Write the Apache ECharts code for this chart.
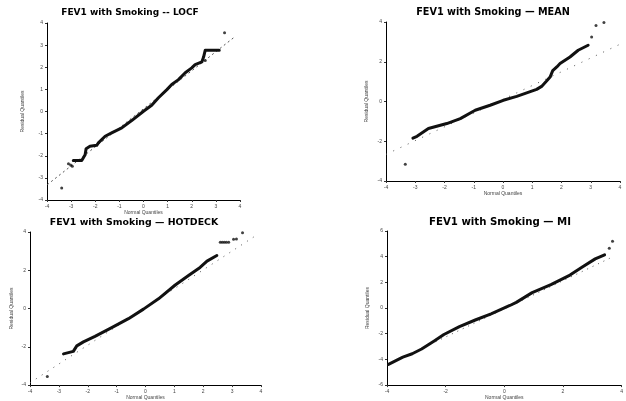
<!DOCTYPE html>
<html>
<head>
<meta charset="utf-8">
<script src="https://cdn.jsdelivr.net/npm/echarts@6/dist/echarts.min.js"></script>
<style>
  html, body { margin: 0; padding: 0; background: #fff; }
  #chart { width: 626px; height: 401px; }
</style>
</head>
<body>
<div id="chart"></div>
<script>
// Normal Q-Q plots of FEV1 model residuals under four imputation methods.

const panelTitles = [
  'FEV1 with Smoking -- LOCF',
  'FEV1 with Smoking \u2014 MEAN',
  'FEV1 with Smoking \u2014 HOTDECK',
  'FEV1 with Smoking \u2014 MI'
];
const xAxisTitle = 'Normal Quantiles';
const yAxisTitle = 'Residual Quantiles';

// Tick labels for each panel
const locfTicksX = [-4, -3, -2, -1, 0, 1, 2, 3, 4];
const locfTicksY = [-4, -3, -2, -1, 0, 1, 2, 3, 4];
const meanTicksX = [-4, -3, -2, -1, 0, 1, 2, 3, 4];
const meanTicksY = [-4, -2, 0, 2, 4];
const hotdeckTicksX = [-4, -3, -2, -1, 0, 1, 2, 3, 4];
const hotdeckTicksY = [-4, -2, 0, 2, 4];
const miTicksX = [-4, -2, 0, 2, 4];
const miTicksY = [-6, -4, -2, 0, 2, 4, 6];

// LOCF: dense run of ordered residuals, isolated points, reference line ends
const locfCurveX = [-2.91, -2.56, -2.42, -2.38, -2.22, -1.94, -1.87, -1.59, -1.32, -0.90, -0.49, 0.00, 0.34, 0.62, 0.97, 1.17, 1.45, 1.73, 2.00, 2.14, 2.42, 2.49, 2.56, 3.14];
const locfCurveY = [-2.21, -2.21, -1.95, -1.68, -1.57, -1.53, -1.42, -1.12, -0.97, -0.74, -0.41, 0.01, 0.28, 0.62, 0.99, 1.22, 1.44, 1.75, 1.97, 2.12, 2.24, 2.46, 2.77, 2.77];
const locfPointsX = [-3.39, -3.11, -3.02, -2.95, 2.56, 3.36];
const locfPointsY = [-3.46, -2.36, -2.42, -2.48, 2.30, 3.56];
const locfRefX = [-3.99, 3.73];
const locfRefY = [-3.31, 3.33];

// MEAN
const meanCurveX = [-3.08, -2.94, -2.55, -1.92, -1.46, -0.95, -0.44, 0.01, 0.47, 0.81, 1.15, 1.32, 1.49, 1.61, 1.70, 1.84, 1.95, 2.29, 2.57, 2.91];
const meanCurveY = [-1.84, -1.75, -1.36, -1.11, -0.86, -0.44, -0.19, 0.06, 0.26, 0.43, 0.61, 0.76, 1.03, 1.23, 1.55, 1.74, 1.91, 2.24, 2.58, 2.83];
const meanPointsX = [-3.34, 3.03, 3.18, 3.45];
const meanPointsY = [-3.16, 3.25, 3.83, 3.98];
const meanRefX = [-4.00, 3.97];
const meanRefY = [-2.66, 2.86];

// HOTDECK
const hotdeckCurveX = [-2.84, -2.50, -2.38, -2.15, -1.75, -1.17, -0.59, -0.07, 0.45, 1.03, 1.49, 1.89, 2.13, 2.47];
const hotdeckCurveY = [-2.37, -2.24, -1.95, -1.74, -1.45, -1.00, -0.53, -0.03, 0.51, 1.23, 1.73, 2.15, 2.48, 2.77];
const hotdeckPointsX = [-3.40, 2.59, 2.66, 2.73, 2.80, 2.88, 3.05, 3.15, 3.36];
const hotdeckPointsY = [-3.55, 3.46, 3.46, 3.46, 3.46, 3.46, 3.62, 3.64, 3.96];
const hotdeckRefX = [-4.00, 3.92];
const hotdeckRefY = [-3.88, 3.91];

// MI
const miCurveX = [-3.95, -3.46, -3.14, -2.82, -2.39, -2.06, -1.53, -0.99, -0.45, 0.19, 0.41, 0.95, 1.59, 2.24, 2.66, 3.10, 3.42];
const miCurveY = [-4.39, -3.82, -3.56, -3.19, -2.56, -2.06, -1.44, -0.93, -0.45, 0.20, 0.44, 1.20, 1.82, 2.57, 3.20, 3.83, 4.15];
const miPointsX = [3.58, 3.69];
const miPointsY = [4.65, 5.20];
const miRefX = [-4.00, 3.69];
const miRefY = [-4.44, 3.98];

function pairs(xs, ys) { return xs.map((x, i) => [x, ys[i]]); }

const panels = [
  { ticksX: locfTicksX, ticksY: locfTicksY, cx: locfCurveX, cy: locfCurveY, px: locfPointsX, py: locfPointsY, rx: locfRefX, ry: locfRefY,
    grid: { left: 47, top: 23, width: 193, height: 177 }, title: [130, 8, 9], yGap: 22, xGap: 7, dash: [2, 3] },
  { ticksX: meanTicksX, ticksY: meanTicksY, cx: meanCurveX, cy: meanCurveY, px: meanPointsX, py: meanPointsY, rx: meanRefX, ry: meanRefY,
    grid: { left: 386, top: 22, width: 234, height: 159 }, title: [493, 7, 9.7], yGap: 17, xGap: 7, dash: [1, 7] },
  { ticksX: hotdeckTicksX, ticksY: hotdeckTicksY, cx: hotdeckCurveX, cy: hotdeckCurveY, px: hotdeckPointsX, py: hotdeckPointsY, rx: hotdeckRefX, ry: hotdeckRefY,
    grid: { left: 30, top: 232, width: 231, height: 159 }, title: [134, 218, 9.4], yGap: 16, xGap: 7, dash: [1, 6] },
  { ticksX: miTicksX, ticksY: miTicksY, cx: miCurveX, cy: miCurveY, px: miPointsX, py: miPointsY, rx: miRefX, ry: miRefY,
    grid: { left: 387, top: 231, width: 248, height: 160 }, title: [500, 217, 10.2], yGap: 17, xGap: 7, dash: [1, 5] }
];

const font = 'Liberation Sans, Arial, sans-serif';
const titleFont = 'DejaVu Sans, Verdana, sans-serif';
const option = {
  animation: false,
  backgroundColor: '#fff',
  title: [], grid: [], xAxis: [], yAxis: [], series: []
};

panels.forEach((p, i) => {
  option.title.push({
    text: panelTitles[i], left: p.title[0], top: p.title[1], textAlign: 'center', padding: 0,
    textStyle: { fontFamily: titleFont, fontWeight: 'bold', fontSize: p.title[2], color: '#000' }
  });
  option.grid.push(p.grid);
  const axisCommon = {
    gridIndex: i,
    axisLine: { onZero: false, lineStyle: { color: '#000', width: 1 } },
    axisTick: { length: 2, lineStyle: { color: '#333' } },
    splitLine: { show: false },
    axisLabel: { fontSize: 5, color: '#444', fontFamily: font, margin: 4 },
    nameLocation: 'middle',
    nameTextStyle: { fontSize: 5, color: '#444', fontFamily: font }
  };
  option.xAxis.push(Object.assign({}, axisCommon, {
    type: 'value', min: p.ticksX[0], max: p.ticksX[p.ticksX.length - 1],
    interval: p.ticksX[1] - p.ticksX[0], name: xAxisTitle, nameGap: p.xGap
  }));
  option.yAxis.push(Object.assign({}, axisCommon, {
    type: 'value', min: p.ticksY[0], max: p.ticksY[p.ticksY.length - 1],
    interval: p.ticksY[1] - p.ticksY[0], name: yAxisTitle, nameGap: p.yGap
  }));
  option.series.push({
    type: 'line', xAxisIndex: i, yAxisIndex: i, data: pairs(p.rx, p.ry),
    symbol: 'none', lineStyle: { color: '#555', width: 1, type: p.dash }, z: 1
  });
  option.series.push({
    type: 'line', xAxisIndex: i, yAxisIndex: i, data: pairs(p.cx, p.cy),
    symbol: 'none', lineStyle: { color: '#111', width: 3, join: 'round', cap: 'round' }, z: 2
  });
  option.series.push({
    type: 'scatter', xAxisIndex: i, yAxisIndex: i, data: pairs(p.px, p.py),
    symbol: 'circle', symbolSize: 3, itemStyle: { color: '#111' }, z: 3
  });
});

const chart = echarts.init(document.getElementById('chart'), null, { renderer: 'canvas' });
chart.setOption(option);
</script>
</body>
</html>
